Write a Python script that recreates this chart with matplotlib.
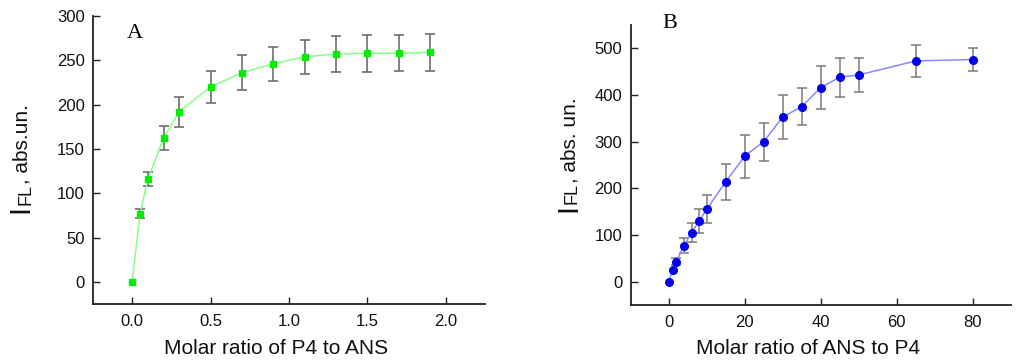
import matplotlib
matplotlib.use("Agg")
import matplotlib.pyplot as plt
import numpy as np

plt.rcParams['font.family'] = ['Liberation Sans', 'DejaVu Sans']

# Panel A data
a_x = [0.0, 0.05, 0.1, 0.2, 0.3, 0.5, 0.7, 0.9, 1.1, 1.3, 1.5, 1.7, 1.9]
a_y = [0, 77, 116, 162, 192, 220, 236, 246, 254, 257, 258, 258, 259]
a_err = [0, 5, 8, 13.5, 17, 18, 19.5, 19.5, 19, 20, 21, 20, 21]
a_xticks = [0.0, 0.5, 1.0, 1.5, 2.0]
a_yticks = [0, 50, 100, 150, 200, 250, 300]

# Panel B data
b_x = [0, 1, 2, 4, 6, 8, 10, 15, 20, 25, 30, 35, 40, 45, 50, 65, 80]
b_y = [0, 24, 43, 77, 105, 130, 155, 214, 269, 300, 353, 375, 416, 438, 443, 473, 476]
b_err = [0, 0, 8, 16, 21, 26, 30, 38, 46, 41, 48, 39, 47, 42, 37, 34, 24]
b_xticks = [0, 20, 40, 60, 80]
b_yticks = [0, 100, 200, 300, 400, 500]

W, H = 1024, 364
fig = plt.figure(figsize=(W / 100, H / 100), dpi=100)

def make_ax(l, r, b, t):
    return fig.add_axes([l / W, (H - b) / H, (r - l) / W, (b - t) / H])

axA = make_ax(93, 485, 304, 16)
axB = make_ax(630.7, 1010.7, 305, 25)

def style(ax):
    for s in ['top', 'right']:
        ax.spines[s].set_visible(False)
    for s in ['left', 'bottom']:
        ax.spines[s].set_linewidth(1.3)
        ax.spines[s].set_color('#222222')
    ax.tick_params(direction='in', length=5, width=1, labelsize=12, colors='#222222',
                   labelcolor='#111111')
    ax.tick_params(axis='y', pad=6)
    ax.tick_params(axis='x', pad=7)

def errbars(ax, xs, ys, es, color, lw):
    xs, ys, es = np.asarray(xs, float), np.asarray(ys, float), np.asarray(es, float)
    m = es > 0
    ax.errorbar(xs[m], ys[m], yerr=es[m], fmt='none', ecolor=color, elinewidth=lw,
                capsize=3.5, capthick=lw, zorder=2)

# Panel A
errbars(axA, a_x, a_y, a_err, '#6e6e6e', 1.2)
axA.plot(a_x, a_y, '-', color='#88ff88', lw=1.1, zorder=3)
axA.plot(a_x, a_y, 's', color='#00ee00', ms=5, mec='#00ee00', zorder=4)
axA.set_xlim(-0.25, 2.25)
axA.set_ylim(-25, 300)
axA.set_xticks(a_xticks)
axA.set_xticklabels([f'{v:.1f}' for v in a_xticks])
axA.set_yticks(a_yticks)
style(axA)

# Panel B
errbars(axB, b_x, b_y, b_err, '#7a7a7a', 1.1)
axB.plot(b_x, b_y, '-', color='#8888ff', lw=1.1, zorder=3)
axB.plot(b_x, b_y, 'o', color='#0000ee', ms=5.5, mec='#0000ee', zorder=4)
axB.set_xlim(-10, 90)
axB.set_ylim(-50, 550)
axB.set_xticks(b_xticks)
axB.set_yticks(b_yticks)
style(axB)

# x labels
fig.text(276 / W, 1 - 349 / H, 'Molar ratio of P4 to ANS', fontsize=15,
         ha='center', va='center', color='#111111')
fig.text(808 / W, 1 - 349 / H, 'Molar ratio of ANS to P4', fontsize=15,
         ha='center', va='center', color='#111111')

# panel letters
fig.text(135 / W, 1 - 33 / H, 'A', fontsize=16, family='Liberation Serif',
         ha='center', va='center')
fig.text(670 / W, 1 - 24 / H, 'B', fontsize=16, family='Liberation Serif',
         ha='center', va='center')

# y labels, built from pieces
renderer = fig.canvas.get_renderer()

def ylabel_pieces(xb, y0, pieces):
    y = y0
    for txt, size, shift in pieces:
        t = fig.text((xb + shift) / W, 1 - y / H, txt, fontsize=size, rotation=90,
                     rotation_mode='anchor', ha='left', va='baseline', color='#111111')
        bb = t.get_window_extent(renderer)
        y -= bb.height

ylabel_pieces(28, 213, [('I', 21, 0), ('FL', 13, 3), (', abs.un.', 15, 0)])
ylabel_pieces(576, 212, [('I', 21, 0), ('FL', 13, 0), (', abs. un.', 15, 0)])

fig.savefig('out.png', dpi=100)
